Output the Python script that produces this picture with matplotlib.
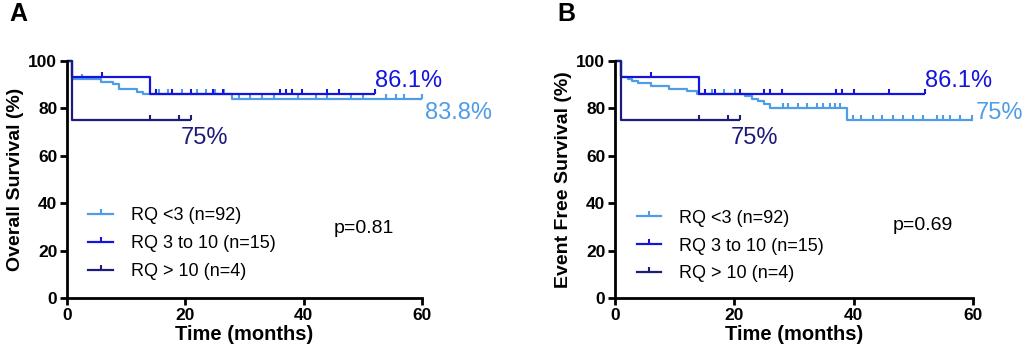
"""
Kaplan-Meier curves by RQ group: overall survival (A) and event free survival (B).
"""

import numpy as np
import matplotlib
matplotlib.use("Agg")
import matplotlib.pyplot as plt
from matplotlib.path import Path
from matplotlib.lines import Line2D

plt.rcParams['font.family'] = ['Liberation Sans', 'DejaVu Sans']

C_LO = '#4f9de6'
C_MID = '#1414dc'
C_HI = '#1c1c7c'

labels = ['RQ <3 (n=92)', 'RQ 3 to 10 (n=15)', 'RQ > 10 (n=4)']

# panel A - overall survival
os_lo_t = [0, 0.9, 5.7, 7.7, 8.8, 11.9, 12.9, 27.9, 60]
os_lo_s = [100, 92.4, 91.3, 90.2, 88.0, 87.0, 85.9, 83.8, 83.8]
os_lo_c = [2.5, 15.5, 17, 19.5, 22, 23.5, 25, 26.5, 29, 31, 33, 35, 39, 42,
           44, 48, 50, 53.9, 55.6, 57, 60]
os_mid_t = [0, 0.9, 14, 52]
os_mid_s = [100, 93.3, 86.1, 86.1]
os_mid_c = [5.9, 15, 17.8, 20.9, 24.6, 26.3, 36, 37, 38, 39.8, 44, 46, 52]
os_hi_t = [0, 0.9, 21]
os_hi_s = [100, 75, 75]
os_hi_c = [14, 19, 21]

# panel B - event free survival
efs_lo_t = [0, 1.0, 2.1, 2.9, 3.9, 6.0, 9.0, 12.1, 13.8, 21.8, 22.9, 24.0,
            25.0, 26.0, 38.8, 60]
efs_lo_s = [100, 93.1, 92.3, 91.5, 90.6, 89.4, 88.3, 87.2, 86.1, 85.1, 84.1,
            83.0, 81.9, 80.3, 75.0, 75.0]
efs_lo_c = [16.2, 18.2, 20.1, 28.2, 29, 30.7, 32.1, 33.8, 34.9, 36, 36.9,
            37.7, 39.9, 41.3, 43.3, 44.7, 46.6, 48.3, 50, 51.6, 53.9, 55,
            56.1, 57.8, 59.8]
efs_mid_t = [0, 1.0, 14.1, 52]
efs_mid_s = [100, 93.3, 86.1, 86.1]
efs_mid_c = [6, 15, 16.8, 21, 25, 26, 28, 37, 38, 40, 46, 52]
efs_hi_t = [0, 1.0, 21]
efs_hi_s = [100, 75, 75]
efs_hi_c = [14, 19, 21]

# censor mark: short tick pointing up from the line
TICK = Path([(0, 0), (0, 1)], [Path.MOVETO, Path.LINETO])


def km(ax, t, s, cens, color):
    ax.step(t, s, where='post', color=color, lw=1.6, clip_on=False,
            solid_capstyle='butt')
    idx = np.searchsorted(t, cens, side='right') - 1
    ys = np.array(s)[idx]
    ax.plot(cens, ys, ls='none', marker=TICK, ms=7.5, mew=1.5, color=color,
            clip_on=False)


def panel(rect, curves, ylabel, letter, notes, pval, leg_xy):
    ax = fig.add_axes(rect)
    for t, s, c, col in curves:
        km(ax, t, s, c, col)
    ax.set_xlim(0, 60)
    ax.set_ylim(0, 100)
    ax.set_xticks([0, 20, 40, 60])
    ax.set_yticks([0, 20, 40, 60, 80, 100])
    for side in ['top', 'right']:
        ax.spines[side].set_visible(False)
    for side in ['left', 'bottom']:
        ax.spines[side].set_linewidth(2)
    ax.tick_params(direction='out', length=5, width=2, labelsize=12.5, pad=2)
    for lab in ax.get_xticklabels() + ax.get_yticklabels():
        lab.set_fontweight('bold')
    ax.set_xlabel('Time (months)', fontsize=14.5, fontweight='bold',
                  labelpad=2)
    ax.set_ylabel(ylabel, fontsize=14, fontweight='bold', labelpad=3)

    for x, y, txt, col, ha in notes:
        ax.text(x, y, txt, color=col, fontsize=17, ha=ha, va='center',
                clip_on=False)
    ax.text(pval[0], pval[1], pval[2], fontsize=14, va='center')

    handles = [Line2D([], [], color=col, lw=1.6, marker=TICK, ms=7.5, mew=1.5)
               for col in [C_LO, C_MID, C_HI]]
    ax.legend(handles, labels, loc='lower left', bbox_to_anchor=leg_xy,
              frameon=False, fontsize=13, handlelength=1.35, numpoints=1,
              handletextpad=1.0, labelspacing=0.6, borderaxespad=0)
    fig.text(rect[0] - 0.056, 0.962, letter, fontsize=18, fontweight='bold',
             va='center')
    return ax


fig = plt.figure(figsize=(10.25, 3.59), dpi=100)

panel([0.0654, 0.170, 0.3463, 0.660],
      [(os_lo_t, os_lo_s, os_lo_c, C_LO),
       (os_mid_t, os_mid_s, os_mid_c, C_MID),
       (os_hi_t, os_hi_s, os_hi_c, C_HI)],
      'Overall Survival (%)', 'A',
      [(52.0, 91.5, '86.1%', C_MID, 'left'),
       (60.5, 78.0, '83.8%', C_LO, 'left'),
       (19.2, 67.5, '75%', C_HI, 'left')],
      (45.0, 29.5, 'p=0.81'), (0.04, 0.045))

panel([0.600, 0.170, 0.3493, 0.660],
      [(efs_lo_t, efs_lo_s, efs_lo_c, C_LO),
       (efs_mid_t, efs_mid_s, efs_mid_c, C_MID),
       (efs_hi_t, efs_hi_s, efs_hi_c, C_HI)],
      'Event Free Survival (%)', 'B',
      [(52.0, 91.5, '86.1%', C_MID, 'left'),
       (60.5, 78.0, '75%', C_LO, 'left'),
       (19.4, 67.5, '75%', C_HI, 'left')],
      (46.5, 30.5, 'p=0.69'), (0.04, 0.035))

fig.savefig('out.png', dpi=100)
